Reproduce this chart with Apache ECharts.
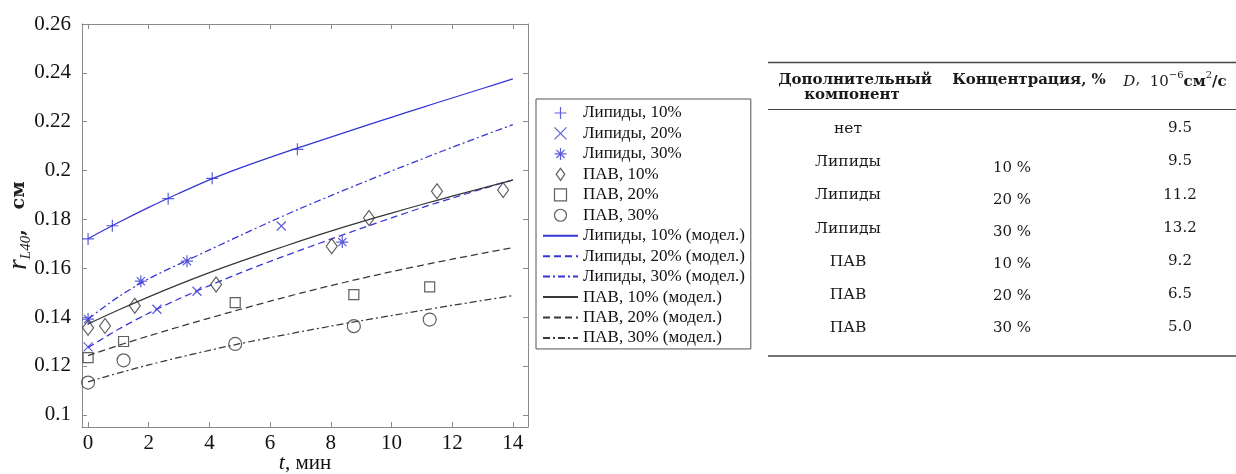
<!DOCTYPE html>
<html><head><meta charset="utf-8">
<script src="https://cdn.jsdelivr.net/npm/echarts@6/dist/echarts.min.js"></script>
<style>html,body{margin:0;padding:0;background:#fff}#c{width:1236px;height:474px}</style>
</head><body><div id="c"></div>
<script>
// ---------- DATA ----------
const seriesNames = ['Липиды, 10%','Липиды, 20%','Липиды, 30%','ПАВ, 10%','ПАВ, 20%','ПАВ, 30%',
  'Липиды, 10% (модел.)','Липиды, 20% (модел.)','Липиды, 30% (модел.)',
  'ПАВ, 10% (модел.)','ПАВ, 20% (модел.)','ПАВ, 30% (модел.)'];
const xTicks = [0,2,4,6,8,10,12,14];
const yTicks = [0.1,0.12,0.14,0.16,0.18,0.2,0.22,0.24,0.26];

// measured points [t, r]
const lipids10Points = [[0,0.1720],[0.8,0.1774],[2.64,0.1885],[4.09,0.1968],[6.9,0.2087]];
const lipids20Points = [[0,0.1278],[2.27,0.1432],[3.59,0.1506],[6.37,0.1773]];
const lipids30Points = [[0,0.1392],[1.74,0.1547],[3.26,0.1629],[8.38,0.1707]];
const pav10Points = [[0,0.1356],[0.56,0.1364],[1.54,0.1446],[4.22,0.1533],[8.03,0.1690],[9.26,0.1806],[11.5,0.1915],[13.68,0.1920]];
const pav20Points = [[0,0.1234],[1.17,0.1300],[4.85,0.1459],[8.76,0.1492],[11.26,0.1524]];
const pav30Points = [[0,0.1132],[1.17,0.1223],[4.85,0.1290],[8.76,0.1363],[11.26,0.1390]];

// model curves sampled at modelTimes
const modelTimes = [0,1,2,3,4,5,6,7,8,9,10,11,12,13,14];
const lipids10Model = [0.1721,0.1787,0.1849,0.1907,0.1962,0.2010,0.2054,0.2096,0.2137,0.2178,0.2218,0.2258,0.2297,0.2336,0.2375];
const lipids20Model = [0.1275,0.1350,0.1416,0.1475,0.1529,0.1580,0.1628,0.1674,0.1719,0.1763,0.1806,0.1848,0.1887,0.1925,0.1962];
const lipids30Model = [0.1392,0.1483,0.1557,0.1617,0.1675,0.1733,0.1790,0.1845,0.1897,0.1948,0.1998,0.2047,0.2095,0.2142,0.2188];
const pav10Model = [0.1372,0.1429,0.1483,0.1534,0.1582,0.1627,0.1670,0.1712,0.1752,0.1790,0.1826,0.1861,0.1895,0.1928,0.1961];
const pav20Model = [0.1242,0.1284,0.1323,0.1360,0.1396,0.1431,0.1465,0.1498,0.1529,0.1558,0.1586,0.1612,0.1637,0.1661,0.1684];
const pav30Model = [0.1135,0.1171,0.1204,0.1235,0.1264,0.1291,0.1316,0.1340,0.1363,0.1385,0.1406,0.1427,0.1448,0.1468,0.1488];

// table
const tableComponent = ['нет','Липиды','Липиды','Липиды','ПАВ','ПАВ','ПАВ'];
const tableConcentration = ['','10 %','20 %','30 %','10 %','20 %','30 %'];
const tableD = ['9.5','9.5','11.2','13.2','9.2','6.5','5.0'];

// ---------- STYLE ----------
const BLUE = '#3535d6';
const DARK = '#383838';
const SERIF = 'Liberation Serif';
const TSERIF = 'DejaVu Serif';

const sym = {
  plus: 'path://M0,5H10M5,0V10',
  cross: 'path://M0,0L10,10M0,10L10,0',
  star: 'path://M0,5H10M5,0V10M1.6,1.6L8.4,8.4M1.6,8.4L8.4,1.6',
  diamond: 'path://M5,0L10,7L5,14L0,7Z',
  square: 'path://M0,0H10V10H0Z',
  circle: 'circle'
};

function scatter(name, data, symbol, size, color) {
  return {name, type:'scatter', data, symbol, symbolSize:size, symbolKeepAspect:false, z:4,
    itemStyle:{color:'rgba(0,0,0,0)', borderColor:color, borderWidth:1.2}};
}
function model(name, vals, color, dash) {
  return {name, type:'line', data: modelTimes.map((t,i)=>[t, vals[i]]), symbol:'none', showSymbol:false,
    smooth:0.3, z:3, itemStyle:{color}, lineStyle:{color, width:1.25, type:dash}};
}
const DASH = [7,4];
const DASHDOT = [7,3,2,3];

const series = [
  scatter(seriesNames[0], lipids10Points, sym.plus, 12, BLUE),
  scatter(seriesNames[1], lipids20Points, sym.cross, 9, BLUE),
  scatter(seriesNames[2], lipids30Points, sym.star, 12, BLUE),
  scatter(seriesNames[3], pav10Points, sym.diamond, [11,15], DARK),
  scatter(seriesNames[4], pav20Points, sym.square, 10, DARK),
  scatter(seriesNames[5], pav30Points, sym.circle, 13, DARK),
  model(seriesNames[6], lipids10Model, BLUE, 'solid'),
  model(seriesNames[7], lipids20Model, BLUE, DASH),
  model(seriesNames[8], lipids30Model, BLUE, DASHDOT),
  model(seriesNames[9], pav10Model, DARK, 'solid'),
  model(seriesNames[10], pav20Model, DARK, DASH),
  model(seriesNames[11], pav30Model, DARK, DASHDOT)
];

const legendData = seriesNames.map((n,i)=> i < 6 ? {name:n}
  : {name:n, itemStyle:{color:'rgba(0,0,0,0)', borderColor:'rgba(0,0,0,0)', borderWidth:0, opacity:0}});

// ---------- TABLE GRAPHICS ----------
const graphics = [];
const ruleX1 = 768, ruleX2 = 1236;
graphics.push({type:'line', shape:{x1:ruleX1,y1:62.5,x2:ruleX2,y2:62.5}, style:{stroke:'#444', lineWidth:1.4}});
graphics.push({type:'line', shape:{x1:ruleX1,y1:109.5,x2:ruleX2,y2:109.5}, style:{stroke:'#444', lineWidth:1}});
graphics.push({type:'line', shape:{x1:ruleX1,y1:356,x2:ruleX2,y2:356}, style:{stroke:'#444', lineWidth:1.4}});
function txt(text, x, y, opts) {
  return {type:'text', x, y, style:Object.assign({text, fill:'#1a1a1a', align:'center', verticalAlign:'middle',
    fontFamily:TSERIF, fontSize:15}, opts||{})};
}
graphics.push(txt('Дополнительный', 855, 80, {fontWeight:'bold'}));
graphics.push(txt('компонент', 852, 95, {fontWeight:'bold'}));
graphics.push(txt('Концентрация, %', 1029, 80, {fontWeight:'bold'}));
graphics.push(txt('{i|D},  {n|10}{s|−6}{b|см}{s|2}{b|/с}', 1175, 80, {
  rich:{
    i:{fontFamily:TSERIF, fontStyle:'italic', fontSize:15, lineHeight:20, verticalAlign:'bottom'},
    n:{fontFamily:TSERIF, fontSize:15, lineHeight:20, verticalAlign:'bottom'},
    s:{fontFamily:TSERIF, fontSize:10, lineHeight:20, verticalAlign:'top'},
    b:{fontFamily:TSERIF, fontSize:15, fontWeight:'bold', lineHeight:20, verticalAlign:'bottom'}
  }}));
tableComponent.forEach((c,i)=>{
  graphics.push(txt(c, 848, 129.3 + i*33.07, {fontSize:15.5}));
  if (tableConcentration[i]) graphics.push(txt(tableConcentration[i], 1012, 168.3 + (i-1)*31.9));
  graphics.push(txt(tableD[i], 1180, 128.3 + i*33.17));
});

// ---------- CHART ----------
const axisColor = '#8a8a8a';
const chart = echarts.init(document.getElementById('c'), null, {renderer:'canvas'});
chart.setOption({
  animation:false,
  backgroundColor:'#fff',
  grid:{left:82, right:708, top:24, bottom:47, containLabel:false, outerBoundsMode:'none'},
  legend:{
    orient:'vertical', left:536, top:99, itemWidth:35, itemHeight:12, itemGap:2.45,
    padding:[5,6,2,6], borderColor:'#555', borderWidth:1, backgroundColor:'#fff',
    selectedMode:false,
    itemStyle:{borderWidth:1.2},
    textStyle:{fontFamily:SERIF, fontSize:17, color:'#111', lineHeight:18},
    data: legendData
  },
  xAxis:[{
    type:'value', min:-0.2, max:14.5, position:'bottom',
    axisLine:{show:true, onZero:false, lineStyle:{color:axisColor, width:1}},
    axisTick:{show:true, inside:true, length:5, customValues:xTicks, lineStyle:{color:axisColor}},
    axisLabel:{customValues:xTicks, fontFamily:SERIF, fontSize:21, color:'#111', margin:6},
    splitLine:{show:false},
    name:'{t|t}{n|, мин}', nameLocation:'middle', nameGap:25, nameMoveOverlap:false,
    nameTextStyle:{rich:{t:{fontFamily:SERIF, fontStyle:'italic', fontSize:22, color:'#111'},
      n:{fontFamily:SERIF, fontSize:21, color:'#111'}}}
  },{
    type:'value', min:-0.2, max:14.5, position:'top',
    axisLine:{show:true, onZero:false, lineStyle:{color:axisColor, width:1}},
    axisTick:{show:true, inside:true, length:5, customValues:xTicks, lineStyle:{color:axisColor}},
    axisLabel:{show:false}, splitLine:{show:false}
  }],
  yAxis:[{
    type:'value', min:0.095, max:0.26, position:'left',
    axisLine:{show:true, onZero:false, lineStyle:{color:axisColor, width:1}},
    axisTick:{show:true, inside:true, length:5, customValues:yTicks, lineStyle:{color:axisColor}},
    axisLabel:{customValues:yTicks, fontFamily:SERIF, fontSize:21, color:'#111', margin:11,
      formatter:v=>String(Math.round(v*100)/100)},
    splitLine:{show:false},
    name:'{r|r}{s|L40}{n|,   см}', nameLocation:'middle', nameGap:48, nameMoveOverlap:false,
    nameTextStyle:{rich:{
      r:{fontFamily:SERIF, fontStyle:'italic', fontSize:27, color:'#222', lineHeight:30, verticalAlign:'middle'},
      s:{fontFamily:SERIF, fontStyle:'italic', fontSize:15, color:'#222', lineHeight:30, verticalAlign:'bottom'},
      n:{fontFamily:TSERIF, fontSize:19, fontWeight:'bold', color:'#222', lineHeight:30, verticalAlign:'middle'}
    }}
  },{
    type:'value', min:0.095, max:0.26, position:'right',
    axisLine:{show:true, onZero:false, lineStyle:{color:axisColor, width:1}},
    axisTick:{show:true, inside:true, length:5, customValues:yTicks, lineStyle:{color:axisColor}},
    axisLabel:{show:false}, splitLine:{show:false}
  }],
  series: series,
  graphic: graphics
});
</script></body></html>
